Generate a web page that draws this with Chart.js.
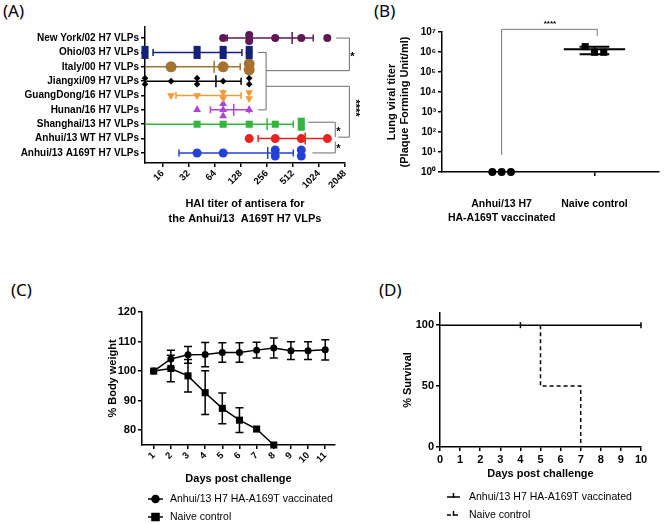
<!DOCTYPE html>
<html>
<head>
<meta charset="utf-8">
<script src="https://cdn.jsdelivr.net/npm/chart.js@4.4.1/dist/chart.umd.min.js"></script>
<style>
  body { margin: 0; background: #fff; }
  #page { position: relative; width: 664px; height: 524px; overflow: hidden; }
  canvas { position: absolute; }
  .tag { position: absolute; font-family: 'Noto Sans', sans-serif; font-size: 17px; line-height: 1; color: #000; }
</style>
</head>
<body>
<div id="page">
  <div class="tag" style="left:3px;top:2px">(A)</div>
  <div class="tag" style="left:374px;top:2px">(B)</div>
  <div class="tag" style="left:11px;top:281px">(C)</div>
  <div class="tag" style="left:379px;top:281px">(D)</div>
  <canvas id="haiChart" width="370" height="240" style="left:0;top:0"></canvas>
  <canvas id="lungChart" width="294" height="240" style="left:370px;top:0"></canvas>
  <canvas id="weightChart" width="340" height="274" style="left:0;top:250px"></canvas>
  <canvas id="survivalChart" width="324" height="274" style="left:340px;top:250px"></canvas>
</div>
<script>
Chart.defaults.font.family = "'Liberation Sans', Arial, sans-serif";
Chart.defaults.color = '#000';
Chart.defaults.animation = false;

// ---------- (A) HAI titers ----------
const haiStrains = ['New York/02 H7 VLPs', 'Ohio/03 H7 VLPs', 'Italy/00 H7 VLPs', 'Jiangxi/09 H7 VLPs',
  'GuangDong/16 H7 VLPs', 'Hunan/16 H7 VLPs', 'Shanghai/13 H7 VLPs', 'Anhui/13 WT H7 VLPs', 'Anhui/13 A169T H7 VLPs'];
const haiTiters = [
  [80, 160, 160, 320, 640, 1280],
  [10, 10, 40, 40, 80, 80, 160, 160],
  [20, 80, 160, 160],
  [10, 10, 20, 40, 40, 80, 160, 160],
  [20, 40, 80, 80, 160, 160],
  [40, 80, 80, 80, 160],
  [40, 80, 160, 320, 640, 640],
  [160, 320, 640, 1280],
  [40, 80, 320, 320, 640, 640]
];
const haiMean = [502, 75, 63, 66, 80, 106, 258, 710, 262];
const haiLow = [89, 12.4, 8, 8, 22.8, 57, 8, 203, 24.7];
const haiHigh = [880, 132, 126, 129, 129, 160, 517, 1300, 517];
const haiTicks = [16, 32, 64, 128, 256, 512, 1024, 2048];

const haiColors = ['#5e1853', '#13217a', '#a3732f', '#000000', '#f39a36', '#b142d6', '#34b53f', '#ec2121', '#2440d6'];
const haiMarkers = ['circle', 'rect', 'circle', 'rectRot', 'triangle', 'triangle', 'rect', 'circle', 'circle'];
const haiSizes = [4, 5, 5.5, 3.3, 4.5, 4.5, 5, 4.5, 4.5];

// ---------- (B) lung viral titer ----------
const lungGroups = [['Anhui/13 H7', 'HA-A169T vaccinated'], 'Naive control'];
const lungVaccinated = [1, 1, 1];
const lungNaive = [1.85e6, 0.97e6, 0.97e6];
const lungNaiveMean = 1.36e6;
const lungNaiveSd = [0.77e6, 1.84e6];
const lungTicks = [1, 10, 100, 1e3, 1e4, 1e5, 1e6, 1e7];

// ---------- (C) body weight ----------
const weightDays = [1, 2, 3, 4, 5, 6, 7, 8, 9, 10, 11];
const weightVaccinated = [100, 104.1, 105.5, 105.6, 106.3, 106.3, 107.1, 107.8, 106.9, 106.9, 107.2];
const weightVaccinatedSd = [0, 3, 2.8, 4.1, 3.3, 3.3, 2.7, 3.4, 3, 3, 3.4];
const weightNaive = [100, 100.9, 98.4, 92.7, 87.4, 83.4, 80.4, 75];
const weightNaiveSd = [0, 4.5, 5.5, 7.4, 5.2, 4.2, 0, 0];
const weightTicks = [80, 90, 100, 110, 120];

// ---------- (D) survival ----------
const survivalDays = [0, 1, 2, 3, 4, 5, 6, 7, 8, 9, 10];
const survivalVaccinatedDays = [0, 4, 10];
const survivalVaccinated = [100, 100, 100];
const survivalNaiveDays = [0, 5, 7];
const survivalNaive = [100, 50, 0];
const survivalTicks = [0, 50, 100];

const bold = size => ({ size: size, weight: 'bold' });
const axisGrid = { drawOnChartArea: false, color: '#000', lineWidth: 1.5, tickLength: 4 };
const axisBorder = { color: '#000', width: 1.5 };
const setTicks = values => scale => { scale.ticks = values.map(v => ({ value: v })); };

// spread repeated values so overlapping points stay visible
function jitter(values, step) {
  const count = {}, seen = {};
  values.forEach(v => { count[v] = (count[v] || 0) + 1; });
  return values.map(v => {
    seen[v] = (seen[v] || 0) + 1;
    return (seen[v] - 1 - (count[v] - 1) / 2) * step;
  });
}
const spread = (n, step) => Array.from({ length: n }, (_, i) => (i - (n - 1) / 2) * step);

// Kaplan-Meier style step vertices from event days / survival values
function kmSteps(days, values) {
  const pts = [{ x: days[0], y: values[0] }];
  for (let i = 1; i < days.length; i++) {
    pts.push({ x: days[i], y: values[i - 1] });
    pts.push({ x: days[i], y: values[i] });
  }
  return pts;
}

function polyline(ctx, pts) {
  ctx.beginPath();
  pts.forEach((p, i) => i ? ctx.lineTo(p[0], p[1]) : ctx.moveTo(p[0], p[1]));
  ctx.stroke();
}

// mean + SD bars and significance brackets for panel A
const haiExtras = {
  id: 'haiExtras',
  beforeDatasetsDraw(chart) {
    const { ctx, chartArea, scales: { x, y } } = chart;
    ctx.save();
    ctx.lineWidth = 1.5;
    haiStrains.forEach((s, r) => {
      const yc = y.getPixelForValue(r);
      const clipped = haiLow[r] < x.min;
      const lo = clipped ? chartArea.left : x.getPixelForValue(haiLow[r]);
      const hi = x.getPixelForValue(haiHigh[r]);
      const m = x.getPixelForValue(haiMean[r]);
      ctx.strokeStyle = haiColors[r];
      ctx.beginPath();
      ctx.moveTo(lo, yc); ctx.lineTo(hi, yc);
      if (!clipped) { ctx.moveTo(lo, yc - 3.5); ctx.lineTo(lo, yc + 3.5); }
      ctx.moveTo(hi, yc - 3.5); ctx.lineTo(hi, yc + 3.5);
      ctx.moveTo(m, yc - 6); ctx.lineTo(m, yc + 6);
      ctx.stroke();
    });
    ctx.restore();
  },
  afterDraw(chart) {
    const { ctx, scales: { x, y } } = chart;
    const at = (t, r) => [x.getPixelForValue(t), y.getPixelForValue(r)];
    const line = pts => polyline(ctx, pts.map(p => at(p[0], p[1])));
    ctx.save();
    ctx.strokeStyle = '#6e6e6e';
    ctx.lineWidth = 1;
    line([[203, 1], [251, 1], [251, 5], [203, 5]]);
    line([[251, 2.27], [2300, 2.27]]);
    line([[251, 3.36], [2300, 3.36]]);
    line([[1620, 0], [2300, 0], [2300, 2.27]]);
    line([[2300, 3.36], [2300, 6.9], [1710, 6.9]]);
    line([[770, 5.86], [1580, 5.86], [1580, 6.9]]);
    line([[860, 8], [1580, 8], [1580, 7.2]]);
    ctx.fillStyle = '#000';
    ctx.font = "bold 11px 'Liberation Sans', Arial, sans-serif";
    ctx.textAlign = 'center';
    ctx.textBaseline = 'middle';
    [[2490, 1.3], [1720, 6.55], [1720, 7.7]].forEach(p => {
      const [a, b] = at(p[0], p[1]);
      ctx.fillText('*', a, b);
    });
    const [sx, sy] = at(2700, 4.87);
    ctx.translate(sx, sy);
    ctx.rotate(Math.PI / 2);
    ctx.fillText('****', 0, 0);
    ctx.restore();
  }
};

new Chart(document.getElementById('haiChart'), {
  type: 'scatter',
  data: {
    datasets: haiStrains.map((s, r) => {
      const dy = jitter(haiTiters[r], 0.42);
      return {
        label: s,
        data: haiTiters[r].map((t, i) => ({ x: t, y: r + dy[i] })),
        pointStyle: haiMarkers[r],
        pointRadius: haiSizes[r],
        pointRotation: r === 4 ? 180 : 0,
        pointBackgroundColor: haiColors[r],
        pointBorderWidth: 0,
        clip: false
      };
    })
  },
  options: {
    responsive: false,
    animation: false,
    layout: { padding: { top: 27, right: 25, left: 0, bottom: 0 } },
    plugins: { legend: { display: false }, tooltip: { enabled: false } },
    scales: {
      x: {
        type: 'logarithmic', min: 10, max: 2048,
        afterBuildTicks: setTicks(haiTicks),
        afterFit: s => { s.height = 77; },
        ticks: { minRotation: 45, maxRotation: 45, autoSkip: false, padding: 1, font: bold(9.5), callback: v => String(v) },
        grid: axisGrid, border: axisBorder,
        title: { display: true, text: ['HAI titer of antisera for', 'the Anhui/13  A169T H7 VLPs'],
          font: { size: 11, weight: 'bold', lineHeight: 1.35 }, padding: { top: 0, bottom: 14 } }
      },
      y: {
        type: 'linear', reverse: true, min: -0.77, max: 8.7,
        afterBuildTicks: setTicks(haiStrains.map((s, i) => i)),
        afterFit: s => { s.width = 145; },
        ticks: { autoSkip: false, padding: 2, font: bold(10), callback: v => haiStrains[v] },
        grid: axisGrid, border: axisBorder
      }
    }
  },
  plugins: [haiExtras]
});

// ---------- panel B ----------
const sup = { 0: '\u2070', 1: '\u00b9', 2: '\u00b2', 3: '\u00b3', 4: '\u2074', 5: '\u2075', 6: '\u2076', 7: '\u2077' };

const lungExtras = {
  id: 'lungExtras',
  beforeDatasetsDraw(chart) {
    const { ctx, scales: { x, y } } = chart;
    const cx = x.getPixelForValue(1);
    const w = x.getPixelForValue(1.33) - cx, cap = x.getPixelForValue(1.16) - cx;
    const ym = y.getPixelForValue(lungNaiveMean);
    const ylo = y.getPixelForValue(lungNaiveSd[0]), yhi = y.getPixelForValue(lungNaiveSd[1]);
    ctx.save();
    ctx.strokeStyle = '#000';
    ctx.lineWidth = 2;
    ctx.beginPath();
    ctx.moveTo(cx - w, ym); ctx.lineTo(cx + w, ym);
    ctx.moveTo(cx, ylo); ctx.lineTo(cx, yhi);
    ctx.moveTo(cx - cap, ylo); ctx.lineTo(cx + cap, ylo);
    ctx.moveTo(cx - cap, yhi); ctx.lineTo(cx + cap, yhi);
    ctx.stroke();
    ctx.restore();
  },
  afterDraw(chart) {
    const { ctx, scales: { x, y } } = chart;
    const at = (a, b) => [x.getPixelForValue(a), y.getPixelForValue(b)];
    ctx.save();
    ctx.strokeStyle = '#777';
    ctx.lineWidth = 1;
    polyline(ctx, [at(0, 7.1), at(0, 1.36e7), at(1.03, 1.36e7), at(1.03, 6.3e6)]);
    ctx.fillStyle = '#000';
    ctx.font = "bold 8px 'Liberation Sans', Arial, sans-serif";
    ctx.textAlign = 'center';
    ctx.textBaseline = 'middle';
    const [sx, sy] = at(0.52, 2.6e7);
    ctx.fillText('****', sx, sy);
    ctx.restore();
  }
};

const vaccOffsets = spread(lungVaccinated.length, 0.1);
const naiveOffsets = spread(lungNaive.length, 0.1);

new Chart(document.getElementById('lungChart'), {
  type: 'scatter',
  data: {
    datasets: [
      { label: 'vaccinated', data: lungVaccinated.map((v, i) => ({ x: vaccOffsets[i], y: v })),
        pointStyle: 'circle', pointRadius: 4, pointBackgroundColor: '#000', pointBorderWidth: 0, clip: false },
      { label: 'naive', data: lungNaive.map((v, i) => ({ x: 1 + naiveOffsets[i], y: v })),
        pointStyle: 'rect', pointRadius: 5, pointBackgroundColor: '#000', pointBorderWidth: 0, clip: false }
    ]
  },
  options: {
    responsive: false,
    animation: false,
    layout: { padding: { top: 32, right: 0, left: 0, bottom: 0 } },
    plugins: { legend: { display: false }, tooltip: { enabled: false } },
    scales: {
      x: {
        type: 'linear', min: -0.642, max: 1.695,
        afterBuildTicks: setTicks([0, 1]),
        afterFit: s => { s.height = 68; },
        ticks: { maxRotation: 0, padding: 22, font: { size: 10.5, weight: 'bold', lineHeight: 1.25 }, callback: v => lungGroups[v] },
        grid: axisGrid, border: axisBorder
      },
      y: {
        type: 'logarithmic', min: 1, max: 1e7,
        afterBuildTicks: setTicks(lungTicks),
        afterFit: s => { s.width = 72; },
        ticks: { padding: 2, font: bold(10), callback: v => '10' + sup[Math.round(Math.log10(v))] },
        grid: axisGrid, border: axisBorder,
        title: { display: true, text: ['Lung viral titer', '(Plaque Forming Unit/ml)'],
          font: { size: 11, weight: 'bold', lineHeight: 1.15 }, padding: { top: 16, bottom: 0 } }
      }
    }
  },
  plugins: [lungExtras]
});

// ---------- shared for C and D ----------
const sdBars = {
  id: 'sdBars',
  afterDatasetsDraw(chart) {
    const { ctx, scales: { x, y } } = chart;
    ctx.save();
    ctx.strokeStyle = '#000';
    ctx.lineWidth = 1.5;
    chart.data.datasets.forEach(ds => {
      (ds.sd || []).forEach((sd, i) => {
        if (!sd) return;
        const p = ds.data[i];
        const px = x.getPixelForValue(p.x);
        const top = y.getPixelForValue(p.y + sd), bot = y.getPixelForValue(p.y - sd);
        ctx.beginPath();
        ctx.moveTo(px, top); ctx.lineTo(px, bot);
        ctx.moveTo(px - 4, top); ctx.lineTo(px + 4, top);
        ctx.moveTo(px - 4, bot); ctx.lineTo(px + 4, bot);
        ctx.stroke();
      });
    });
    ctx.restore();
  }
};

const rowLegend = {
  id: 'rowLegend',
  afterDraw(chart, args, opts) {
    const { ctx, chartArea } = chart;
    chart.data.datasets.forEach((ds, i) => {
      const y = chartArea.bottom + opts.top + i * opts.gap;
      const x0 = chartArea.left + opts.left;
      ctx.save();
      ctx.strokeStyle = '#000';
      ctx.fillStyle = '#000';
      ctx.lineWidth = 1.5;
      ctx.setLineDash(ds.borderDash || []);
      polyline(ctx, [[x0, y], [x0 + opts.length, y]]);
      ctx.setLineDash([]);
      Chart.helpers.drawPoint(ctx, {
        pointStyle: ds.legendStyle, radius: ds.legendRadius, rotation: ds.legendStyle === 'line' ? 90 : 0, borderWidth: 1.5
      }, x0 + opts.length / 2, ds.legendStyle === 'line' ? y - 1.5 : y);
      ctx.font = "10.5px 'Liberation Sans', Arial, sans-serif";
      ctx.textBaseline = 'middle';
      ctx.fillText(ds.label, x0 + opts.text, y);
      ctx.restore();
    });
  }
};

// ---------- panel C ----------
new Chart(document.getElementById('weightChart'), {
  type: 'line',
  data: {
    datasets: [
      { label: 'Anhui/13 H7 HA-A169T vaccinated', data: weightDays.map((d, i) => ({ x: d, y: weightVaccinated[i] })),
        sd: weightVaccinatedSd, borderColor: '#000', borderWidth: 1.5, tension: 0,
        pointStyle: 'circle', pointRadius: 3.5, pointBackgroundColor: '#000', pointBorderWidth: 0,
        legendStyle: 'circle', legendRadius: 3.5, clip: false },
      { label: 'Naive control', data: weightNaive.map((v, i) => ({ x: weightDays[i], y: v })),
        sd: weightNaiveSd, borderColor: '#000', borderWidth: 1.5, tension: 0,
        pointStyle: 'rect', pointRadius: 5, pointBackgroundColor: '#000', pointBorderWidth: 0,
        legendStyle: 'rect', legendRadius: 5, clip: false }
    ]
  },
  options: {
    responsive: false,
    animation: false,
    layout: { padding: { top: 62, right: 0, left: 0, bottom: 36 } },
    plugins: { legend: { display: false }, tooltip: { enabled: false },
      rowLegend: { top: 54, gap: 18, left: 6, length: 15, text: 22 } },
    scales: {
      x: {
        type: 'linear', min: 0.318, max: 11.57,
        afterBuildTicks: setTicks(weightDays),
        afterFit: s => { s.height = 43; },
        ticks: { minRotation: 45, maxRotation: 45, autoSkip: false, padding: 1, font: bold(9.5) },
        grid: axisGrid, border: axisBorder,
        title: { display: true, text: 'Days post challenge', font: bold(11), padding: { top: 0, bottom: 2.4 } }
      },
      y: {
        type: 'linear', min: 75, max: 120,
        afterBuildTicks: setTicks(weightTicks),
        afterFit: s => { s.width = 142; },
        ticks: { padding: 2, font: bold(11) },
        grid: axisGrid, border: axisBorder,
        title: { display: true, text: '% Body weight', font: bold(11), padding: { top: 106, bottom: 0 } }
      }
    }
  },
  plugins: [sdBars, rowLegend]
});

// ---------- panel D ----------
// the naive curve's first step lies under the vaccinated line, so it is left unpainted
const topLevel = Math.max(...survivalVaccinated);
new Chart(document.getElementById('survivalChart'), {
  type: 'line',
  data: {
    datasets: [
      { label: 'Anhui/13 H7 HA-A169T vaccinated',
        data: survivalVaccinatedDays.map((d, i) => ({ x: d, y: survivalVaccinated[i] })),
        borderColor: '#000', borderWidth: 1.5,
        pointStyle: 'line', pointRotation: 90, pointRadius: [0, 3, 3], pointBorderColor: '#000', pointBorderWidth: 1.5,
        legendStyle: 'line', legendRadius: 2.5, clip: false },
      { label: 'Naive control',
        data: kmSteps(survivalNaiveDays, survivalNaive),
        borderColor: '#000', borderWidth: 1.5, borderDash: [4, 3], pointRadius: 0,
        segment: { borderColor: c => (c.p0.parsed.y === topLevel && c.p1.parsed.y === topLevel) ? 'rgba(0,0,0,0)' : '#000' },
        legendStyle: 'line', legendRadius: 2.5, clip: false }
    ]
  },
  options: {
    responsive: false,
    animation: false,
    layout: { padding: { top: 63, right: 23, left: 0, bottom: 41 } },
    plugins: { legend: { display: false }, tooltip: { enabled: false },
      rowLegend: { top: 50, gap: 18, left: 7, length: 13, text: 22 } },
    scales: {
      x: {
        type: 'linear', min: 0, max: 10,
        afterBuildTicks: setTicks(survivalDays),
        afterFit: s => { s.height = 36; },
        ticks: { maxRotation: 0, padding: 2, font: bold(11) },
        grid: axisGrid, border: axisBorder,
        title: { display: true, text: 'Days post challenge', font: bold(11), padding: { top: 0, bottom: 2.4 } }
      },
      y: {
        type: 'linear', min: 0, max: 110,
        afterBuildTicks: setTicks(survivalTicks),
        afterFit: s => { s.width = 100; },
        ticks: { padding: 2, font: bold(11) },
        grid: axisGrid, border: axisBorder,
        title: { display: true, text: '% Survival', font: bold(11), padding: { top: 61, bottom: 0 } }
      }
    }
  },
  plugins: [rowLegend]
});
</script>
</body>
</html>
